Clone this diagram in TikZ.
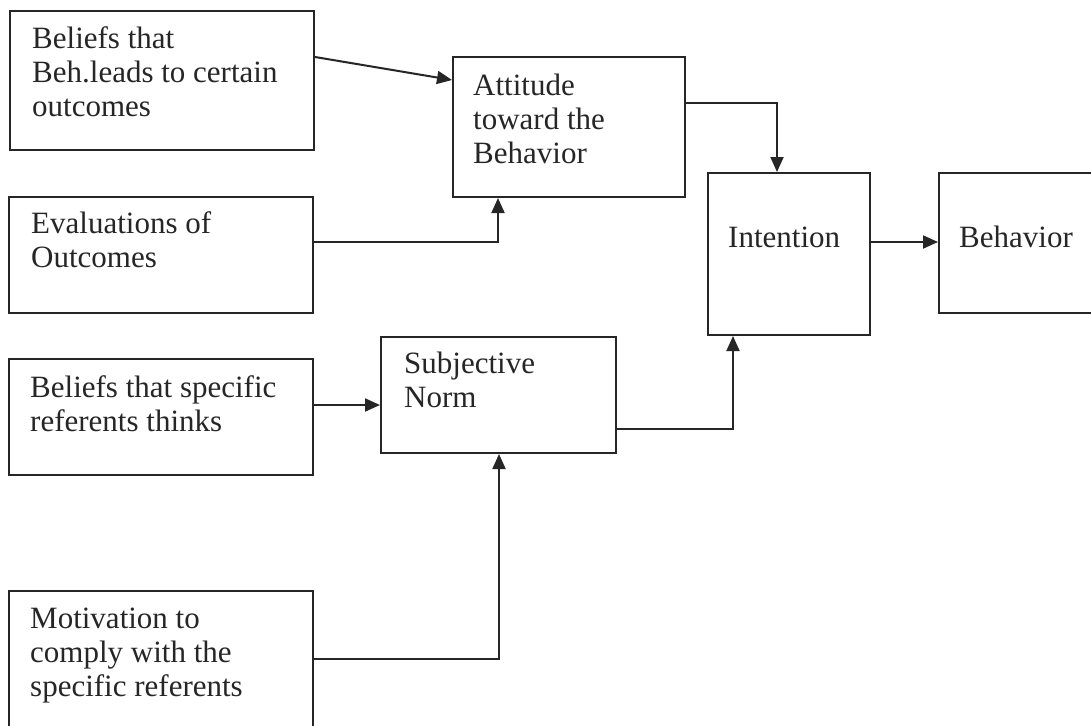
\documentclass[tikz,border=0pt]{standalone}
\usepackage{fontspec}
\setmainfont{Liberation Serif}
\usetikzlibrary{arrows.meta,calc}
\definecolor{ink}{HTML}{262626}
\begin{document}
\begin{tikzpicture}[x=1pt,y=-1pt,
  box/.style={draw=ink,line width=2pt,rectangle,inner sep=0pt,anchor=north west},
  txt/.style={anchor=north west,inner sep=0pt,align=left,text=ink,font=\fontsize{31}{34}\selectfont},
  lbl/.style={anchor=base west,inner sep=0pt,text=ink,font=\fontsize{31}{34}\selectfont},
  arr/.style={draw=ink,line width=2pt,-{Triangle[length=15pt,width=13pt]}}]
\useasboundingbox (0,0) rectangle (1091,725);
\fill[white] (0,0) rectangle (1091,725);
\clip (0,0) rectangle (1091,725);
% boxes
\node[box,minimum width=304pt,minimum height=139pt] (b1) at (9,10) {};
\node[box,minimum width=304pt,minimum height=116pt] (ev) at (8,196) {};
\node[box,minimum width=232pt,minimum height=140pt] (att) at (452,56) {};
\node[box,minimum width=162pt,minimum height=162pt] (int) at (707,172) {};
\node[box,minimum width=190pt,minimum height=140pt] (beh) at (938,172) {};
\node[box,minimum width=304pt,minimum height=116pt] (bs) at (8,358) {};
\node[box,minimum width=235pt,minimum height=116pt] (sn) at (380,336) {};
\node[box,minimum width=304pt,minimum height=170pt] (mo) at (8,590) {};
% texts
\node[txt] (t1) at ($(b1.north west)+(23,14)$) {\strut Beliefs that\\Beh.leads to certain\\outcomes};
\node[txt] (t2) at ($(ev.north west)+(23,13)$) {\strut Evaluations of\\Outcomes};
\node[txt] (t3) at ($(att.north west)+(21,15)$) {\strut Attitude\\toward the\\Behavior};
\node[lbl] (t4) at (728,247) {Intention};
\node[lbl] (t5) at (959,247) {Behavior};
\node[txt] (t6) at ($(bs.north west)+(22,15)$) {\strut Beliefs that specific\\referents thinks};
\node[txt] (t7) at ($(sn.north west)+(24,13)$) {\strut Subjective\\Norm};
\node[txt] (t8) at ($(mo.north west)+(22,14)$) {\strut Motivation to\\comply with the\\specific referents};
% connectors
\draw[arr] ($(b1.north east)+(0,47)$) -- ($(att.north west)+(0,24)$);
\draw[arr] ($(ev.north east)+(0,46)$) -| ($(att.south west)+(46,0)$);
\draw[arr] ($(att.north east)+(0,47)$) -| ($(int.north west)+(70,0)$);
\draw[arr] ($(int.north east)+(0,70)$) -- ($(beh.north west)+(0,70)$);
\draw[arr] ($(bs.north east)+(0,47)$) -- ($(sn.north west)+(0,69)$);
\draw[arr] ($(sn.south east)+(0,-25)$) -| ($(int.south west)+(26,0)$);
\draw[arr] ($(mo.north east)+(0,69)$) -| ($(sn.south west)+(119,0)$);
\end{tikzpicture}
\end{document}
